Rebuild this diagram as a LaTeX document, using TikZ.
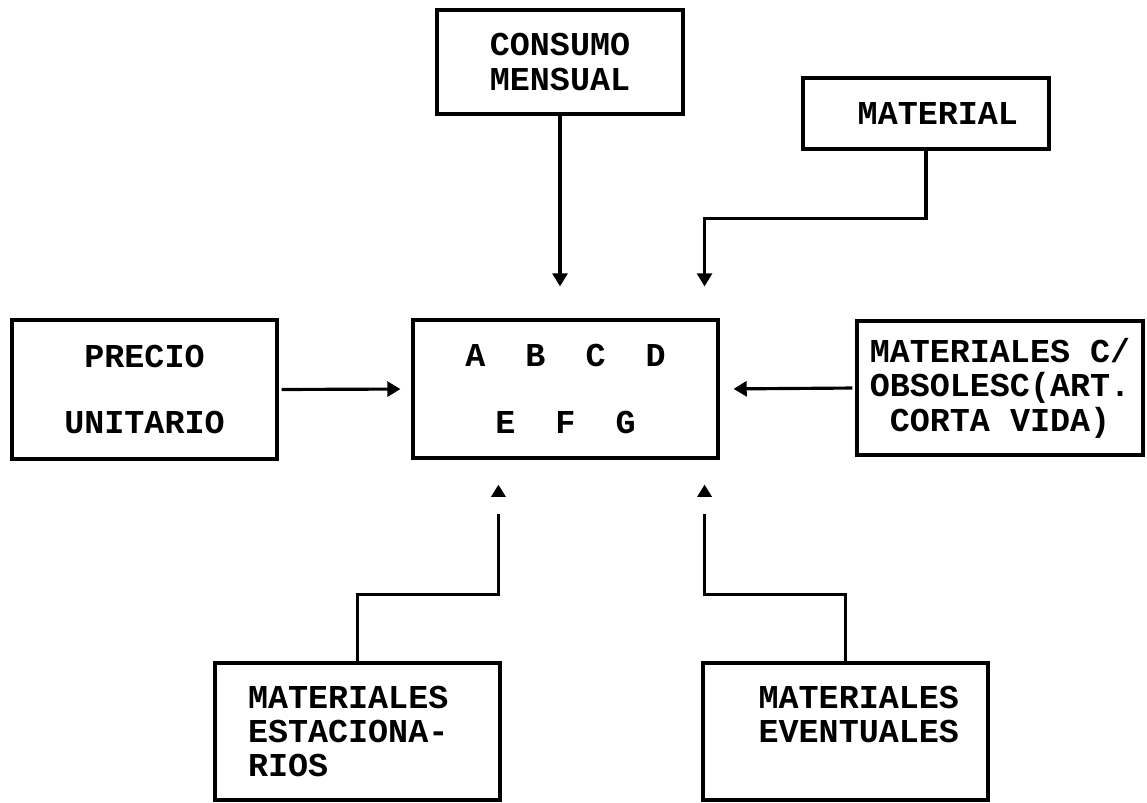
\documentclass[tikz,border=0pt]{standalone}
\usepackage{fontspec}
\setmonofont{Liberation Mono}
\usetikzlibrary{arrows.meta, positioning}
\newcommand{\letra}{\ttfamily\bfseries\fontsize{19pt}{19.6pt}\selectfont}
\tikzset{
  caja/.style={draw, line width=1.8pt, font=\letra, align=center, inner sep=0pt},
  linea/.style={line width=1.8pt},
  flecha/.style={line width=1.8pt, -{Triangle[length=7.5pt,width=8.5pt]}},
  punta/.style={line width=1.8pt, -{Triangle[length=7pt,width=8pt]}}
}

\begin{document}
\begin{tikzpicture}[x=0.02cm, y=-0.02cm]
\useasboundingbox (0,0) rectangle (1147,802);
% cajas
\node[caja, minimum width=6.1cm, minimum height=2.76cm] (centro) at (565.5,389) {A~~B~~C~~D\\[0.67cm]E~~F~~G};
\node[caja, minimum width=5.3cm, minimum height=2.78cm] (precio) at (144.5,389.5) {PRECIO\\[0.63cm]UNITARIO};
\node[caja, minimum width=5.72cm, minimum height=2.68cm] (obsol) at (1000,388) {MATERIALES C/\\OBSOLESC(ART.\\CORTA VIDA)};
\node[caja, minimum width=4.92cm, minimum height=2.08cm] (consumo) at (560,62) {CONSUMO\\MENSUAL};
\node[caja, align=right, text width=3.68cm, inner xsep=0.62cm, minimum height=1.42cm] (material) at (926,113.5) {MATERIAL};
\node[caja, align=left, text width=4.38cm, inner xsep=0.66cm, minimum height=2.74cm] (estac) at (357.5,731.5) {MATERIALES\\ESTACIONA-\\RIOS};
\node[caja, align=right, text width=4.54cm, inner xsep=0.58cm, minimum height=2.74cm] (event) at (845.5,731.5) {MATERIALES\\EVENTUALES\\\mbox{}};
% conexiones de arriba
\draw[flecha, shorten >=0.64cm] (consumo.south) -- (consumo.south |- centro.north);
\draw[flecha, shorten >=0.64cm] (material.south) -- ++(0,68) -| ([xshift=-0.3cm]centro.north east);
% conexiones laterales
\draw[flecha, shorten <=0.06cm, shorten >=0.22cm] (precio.east) -- (centro.west);
\draw[flecha, shorten <=0.06cm, shorten >=0.28cm] (obsol.west) -- (centro.east);
% conexiones de abajo (punta suelta)
\draw[linea, shorten >=1.08cm] (estac.north) -- ++(0,-67) -| ([xshift=1.74cm]centro.south west);
\draw[punta] ([xshift=1.74cm,yshift=-0.75cm]centro.south west) -- ([xshift=1.74cm,yshift=-0.5cm]centro.south west);
\draw[linea, shorten >=1.08cm] (event.north) -- ++(0,-67) -| ([xshift=-0.3cm]centro.south east);
\draw[punta] ([xshift=-0.3cm,yshift=-0.75cm]centro.south east) -- ([xshift=-0.3cm,yshift=-0.5cm]centro.south east);
\end{tikzpicture}
\end{document}
